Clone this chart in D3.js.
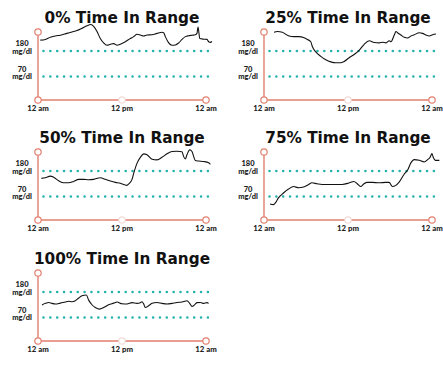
<!DOCTYPE html>
<html>
<head>
<meta charset="utf-8">
<script src="https://cdn.jsdelivr.net/npm/d3@7"></script>
<style>
  body { margin: 0; background: #fff; }
  svg text { font-family: Lato, "DejaVu Sans", sans-serif; }
  svg text.title { font-family: "DejaVu Sans", sans-serif; }
</style>
</head>
<body>
<div class="wrap"></div>
<script>
// chart titles, threshold lines and x tick labels
const titles = ["0% Time In Range", "25% Time In Range", "50% Time In Range", "75% Time In Range", "100% Time In Range"]
const thresholds = [180, 70]
const tickHours = [0, 12, 24]
const tickLabels = ["12 am", "12 pm", "12 am"]

// glucose traces, hours since midnight and mg/dl
const hours0 = [0.33,1.05,1.76,2.48,3.19,4.14,4.86,5.57,6.29,7.0,7.57,7.95,8.43,8.9,9.38,9.86,10.33,10.81,11.29,11.76,12.48,13.19,13.67,14.14,14.62,15.1,15.57,16.29,17.0,17.71,17.95,18.19,18.67,19.14,19.62,20.1,20.57,21.05,21.52,22.0,22.48,22.71,22.86,23.0,23.1,23.67,24.14,24.38,24.62,24.86]
const glucose0 = [227,230,239,245,248,256,262,268,278,289,294,286,264,234,215,205,209,212,205,209,220,234,242,252,249,245,249,250,256,261,259,242,215,205,206,215,230,242,246,248,250,256,283,256,234,231,230,220,217,221]

const hours25 = [1.43,1.91,2.62,3.1,3.58,4.29,5.01,5.73,6.2,6.68,6.92,7.4,8.11,8.83,9.54,10.26,10.97,11.45,12.17,12.88,13.6,14.31,15.03,15.74,16.46,16.94,17.41,17.89,18.13,18.61,18.85,19.08,19.56,20.04,20.52,20.99,21.47,22.18,22.66,23.14,23.62,24.09,24.57]
const glucose25 = [261,264,261,252,245,242,242,237,230,220,198,176,157,142,133,129,129,135,151,165,183,209,224,217,215,218,215,224,220,249,264,259,249,239,236,245,250,259,256,249,245,250,253]

const hours50 = [0.48,1.05,1.76,2.24,2.95,3.67,4.38,5.1,5.81,6.52,7.24,7.95,8.9,9.62,10.33,11.05,11.76,12.24,12.71,12.95,13.43,13.67,14.14,14.62,15.1,15.57,16.29,17.0,17.71,18.43,19.14,19.86,20.57,20.81,21.05,21.29,21.67,22.0,22.24,22.48,22.95,23.67,24.38,24.62]
const glucose50 = [148,151,158,153,138,129,129,135,144,144,142,144,151,144,137,131,127,122,118,124,144,170,213,239,254,250,231,228,239,254,264,265,263,242,232,251,271,264,242,225,223,221,216,209]

const hours75 = [0.86,1.34,1.68,2.06,2.78,3.5,4.22,4.93,5.65,6.37,6.85,7.57,8.29,9.25,10.2,11.16,12.12,12.84,13.32,13.8,14.28,14.75,15.47,16.43,17.39,17.87,18.35,18.83,19.3,20.02,20.5,20.98,21.46,22.18,22.9,23.38,23.71,24.0,24.19,24.48,25.05]
const glucose75 = [38,35,45,64,85,102,113,108,111,122,129,125,122,122,122,122,128,135,125,113,125,131,131,129,131,131,113,118,132,166,183,215,229,226,219,229,238,255,238,226,226]

const hours100 = [0.57,1.05,1.52,2.0,2.48,3.19,3.9,4.38,4.86,5.33,5.81,6.29,6.9,7.24,7.71,8.19,8.81,9.38,10.1,10.81,11.29,12.0,12.71,13.43,14.14,14.62,14.86,15.1,15.33,15.81,16.29,17.0,17.71,18.43,19.14,19.86,20.57,21.29,21.67,22.0,22.24,22.71,23.19,23.67,24.14,24.38]
const glucose100 = [124,131,135,131,128,132,137,140,138,142,154,164,167,145,125,113,106,113,125,132,137,129,128,134,131,134,138,128,113,121,131,135,131,128,131,135,137,142,131,118,121,134,135,131,134,131]

const panelHours = [hours0, hours25, hours50, hours75, hours100]
const panelGlucose = [glucose0, glucose25, glucose50, glucose75, glucose100]

// where each small chart sits (axis origin x, axis top y)
const panelX = [38, 264, 38, 264, 38]
const panelY = [32, 32, 152, 152, 273]

const axisColor = "#e2806f"
const dotColor = "#25b2ac"

let width = 443, height = 369

let svg = d3.select(".wrap")
.append("svg")
.attr("width", width)
.attr("height", height)

panelHours.forEach((hrs, i) => {
  let x0 = panelX[i], top = panelY[i]
  let bottom = top + 68

  let x = d3.scaleLinear()
  .domain([0, 24])
  .range([x0, x0 + 168])

  let y = d3.scaleLinear()
  .domain([70, 180])
  .range([top + 44.5, top + 19])

  let g = svg.append("g")

  g.append("text")
  .attr("class", "title")
  .attr("x", x(12))
  .attr("y", top - 9)
  .attr("text-anchor", "middle")
  .style("font-size", "15.3px")
  .style("font-weight", "bold")
  .style("fill", "#111")
  .text(titles[i])

  // dotted target range lines
  thresholds.forEach(t => {
    g.append("line")
    .attr("x1", x0 + 5.5)
    .attr("x2", x0 + 170)
    .attr("y1", y(t))
    .attr("y2", y(t))
    .style("stroke", dotColor)
    .style("stroke-width", 2.6)
    .style("stroke-linecap", "round")
    .style("stroke-dasharray", "0 6.85")

    let lab = g.append("text")
    .attr("x", x0 - 16)
    .attr("text-anchor", "middle")
    .style("font-size", "7.5px")
    .style("font-weight", 900)
    .style("fill", "#222")
    lab.append("tspan").attr("x", x0 - 16).attr("y", y(t) - 5).text(t)
    lab.append("tspan").attr("x", x0 - 16).attr("y", y(t) + 2.5).text("mg/dl")
  })

  // axes
  g.append("path")
  .attr("d", `M${x0},${top}V${bottom}H${x(24)}`)
  .style("fill", "none")
  .style("stroke", axisColor)
  .style("stroke-width", 1.4)

  g.append("circle")
  .attr("cx", x0).attr("cy", top).attr("r", 3.2)
  .style("fill", "#fff").style("stroke", axisColor).style("stroke-width", 1.2)

  tickHours.forEach((h, k) => {
    g.append("circle")
    .attr("cx", x(h)).attr("cy", bottom).attr("r", 3.2)
    .style("fill", "#fff")
    .style("stroke", k == 1 ? "#f1dcd8" : axisColor)
    .style("stroke-width", 1.2)

    g.append("text")
    .attr("x", x(h))
    .attr("y", bottom + 11)
    .attr("text-anchor", "middle")
    .style("font-size", "7.8px")
    .style("font-weight", 900)
    .style("fill", "#222")
    .text(tickLabels[k])
  })

  let line = d3.line()
  .x((d, j) => x(d))
  .y((d, j) => y(panelGlucose[i][j]))
  .curve(d3.curveMonotoneX)

  g.append("path")
  .attr("d", line(hrs))
  .style("fill", "none")
  .style("stroke", "#111")
  .style("stroke-width", 1.1)
})
</script>
</body>
</html>
